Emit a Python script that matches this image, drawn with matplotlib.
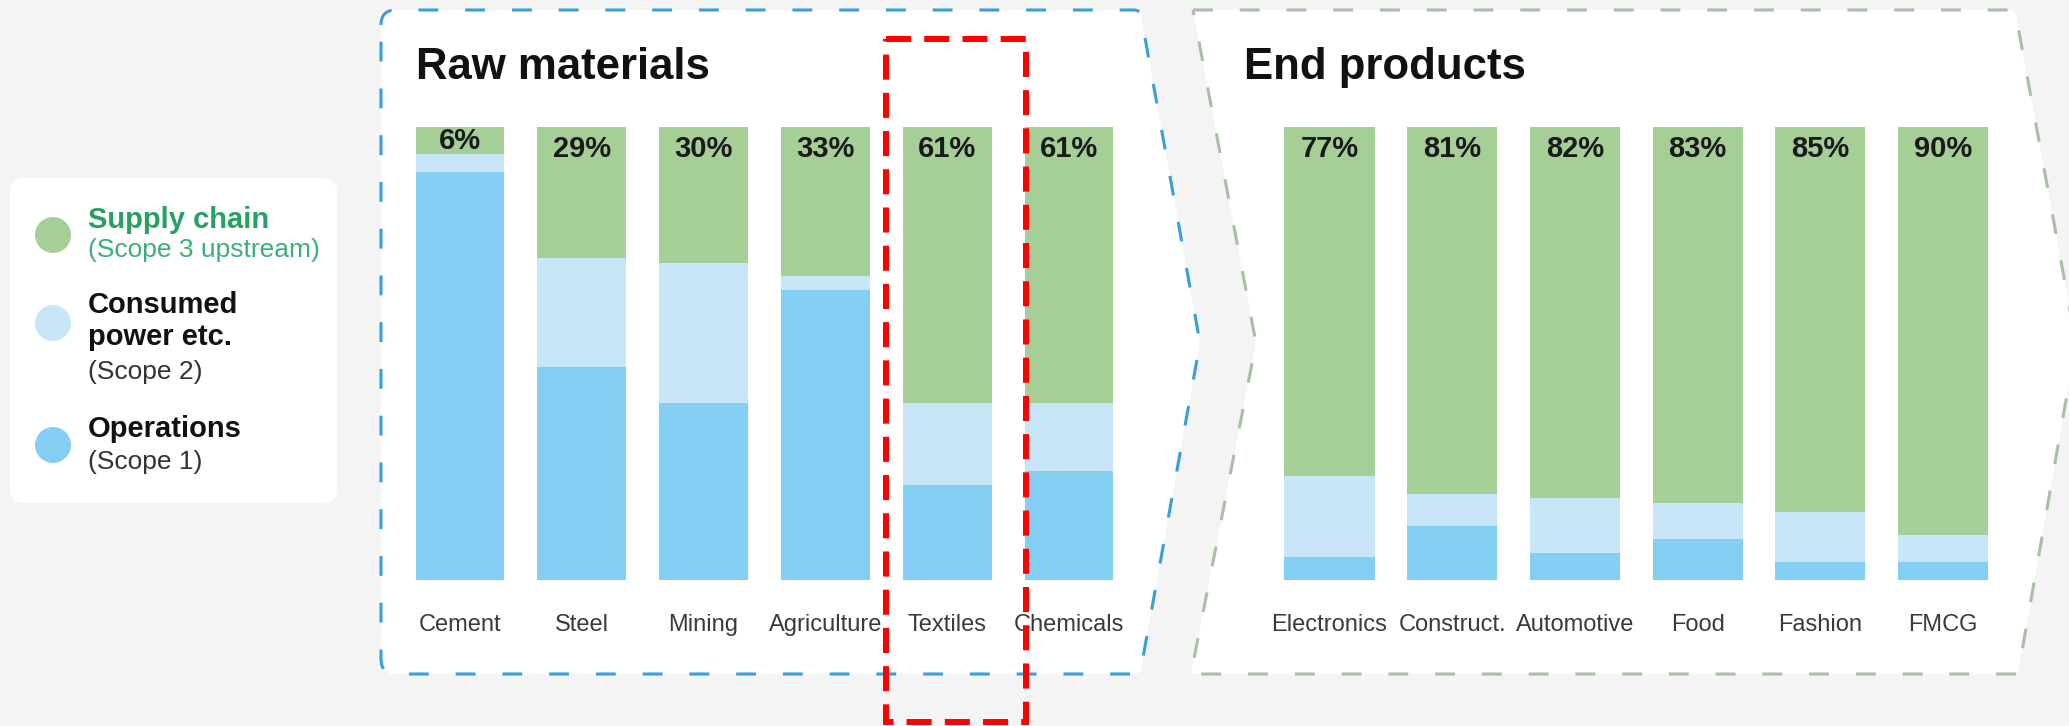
import numpy as np
import matplotlib
matplotlib.use('Agg')
from matplotlib import pyplot as plt
from matplotlib.path import Path
from matplotlib.patches import PathPatch, FancyBboxPatch, Circle, Rectangle

plt.rcParams['font.family'] = ['Liberation Sans', 'DejaVu Sans']

# shares of emissions (%), stacked bottom -> top: operations, power, supply chain
raw_names = ['Cement', 'Steel', 'Mining', 'Agriculture', 'Textiles', 'Chemicals']
raw_ops = [90, 47, 39, 64, 21, 24]
raw_power = [4, 24, 31, 3, 18, 15]
raw_supply = [6, 29, 30, 33, 61, 61]

end_names = ['Electronics', 'Construct.', 'Automotive', 'Food', 'Fashion', 'FMCG']
end_ops = [5, 12, 6, 9, 4, 4]
end_power = [18, 7, 12, 8, 11, 6]
end_supply = [77, 81, 82, 83, 85, 90]

GREEN = '#a6ce97'
LIGHT = '#c8e6f8'
BLUE = '#84cef3'
BG = '#f4f4f4'

W, H = 2069, 726


#polygon path with rounded corners (quadratic curves at each vertex)
def rounded_path(pts, radii):
    pts = np.array(pts, float)
    n = len(pts)
    verts, codes = [], []
    for i in range(n):
        p, prev, nxt = pts[i], pts[i - 1], pts[(i + 1) % n]
        r = radii[i]
        if r == 0:
            verts.append(p)
            codes.append(Path.LINETO)
        else:
            d1 = (prev - p) / np.linalg.norm(prev - p)
            d2 = (nxt - p) / np.linalg.norm(nxt - p)
            verts += [p + d1 * r, p, p + d2 * r]
            codes += [Path.LINETO, Path.CURVE3, Path.CURVE3]
    codes[0] = Path.MOVETO
    verts.append(verts[0])
    codes.append(Path.CLOSEPOLY)
    return Path(verts, codes)


def draw_bars(ax, names, ops, power, supply, width):
    x = np.arange(len(names))
    ops, power, supply = map(np.array, (ops, power, supply))
    ax.bar(x, ops, width, color=BLUE)
    ax.bar(x, power, width, bottom=ops, color=LIGHT)
    ax.bar(x, supply, width, bottom=ops + power, color=GREEN)
    for xi, s, b in zip(x, supply, ops + power):
        ax.text(xi, b + s - min(s / 2, 4.9), '{}%'.format(s), ha='center', va='center',
                fontsize=21, fontweight='bold', color='#1a1a1a')
    ax.set_xlim(-0.5, len(names) - 0.5)
    ax.set_ylim(0, 100)
    ax.set_xticks(x, names)
    ax.tick_params(axis='x', length=0, pad=32.4, labelsize=17, labelcolor='#3a3a3a')
    for t in ax.get_xticklabels():
        t.set_va('center')
    ax.set_yticks([])
    for s in ax.spines.values():
        s.set_visible(False)
    ax.patch.set_alpha(0)


fig = plt.figure(figsize=(W / 100, H / 100), dpi=100, facecolor=BG)

# background layer in pixel coordinates
bg = fig.add_axes([0, 0, 1, 1], zorder=0)
bg.set_xlim(0, W)
bg.set_ylim(H, 0)
bg.axis('off')

raw_panel = rounded_path([(381, 10), (1140, 10), (1200, 343), (1140, 674), (381, 674)],
                         [15, 6, 4, 6, 15])
bg.add_patch(PathPatch(raw_panel, facecolor='white', edgecolor='#3a9fd6', lw=2.2,
                       linestyle=(0, (6.5, 8.8))))
end_panel = rounded_path([(1193, 10), (2015, 10), (2076, 343), (2018, 674), (1191, 674), (1256, 343)],
                         [0, 4, 4, 4, 0, 4])
bg.add_patch(PathPatch(end_panel, facecolor='white', edgecolor='#a9bfa4', lw=2.2,
                       linestyle=(0, (6.5, 8.8))))

bg.text(416, 79, 'Raw materials', fontsize=31.5, fontweight='bold', color='#111111', va='baseline')
bg.text(1244, 79, 'End products', fontsize=31.5, fontweight='bold', color='#111111', va='baseline')

# legend card
bg.add_patch(FancyBboxPatch((10, 178), 327, 325, boxstyle='round,pad=0,rounding_size=15',
                            facecolor='white', edgecolor='none'))
for cy, col in [(235, GREEN), (323, LIGHT), (445, BLUE)]:
    bg.add_patch(Circle((53, cy), 18, facecolor=col, edgecolor='none'))
legend_lines = [
    ('Supply chain', 228, 'bold', '#27a063'),
    ('(Scope 3 upstream)', 257, 'normal', '#3dae7a'),
    ('Consumed', 313, 'bold', '#111111'),
    ('power etc.', 345, 'bold', '#111111'),
    ('(Scope 2)', 379, 'normal', '#333333'),
    ('Operations', 437, 'bold', '#111111'),
    ('(Scope 1)', 469, 'normal', '#333333'),
]
for txt, y, wt, col in legend_lines:
    bg.text(88, y, txt, fontsize=21 if wt == 'bold' else 19, fontweight=wt, color=col, va='baseline')

# bar axes
ax1 = fig.add_axes([399.1 / W, 1 - 580 / H, (1129.9 - 399.1) / W, (580 - 127) / H], zorder=2)
draw_bars(ax1, raw_names, raw_ops, raw_power, raw_supply, 0.73)
ax2 = fig.add_axes([1268.2 / W, 1 - 580 / H, (2004.4 - 1268.2) / W, (580 - 127) / H], zorder=2)
draw_bars(ax2, end_names, end_ops, end_power, end_supply, 0.735)

# red highlight box on top
top = fig.add_axes([0, 0, 1, 1], zorder=10)
top.set_xlim(0, W)
top.set_ylim(H, 0)
top.axis('off')
top.patch.set_alpha(0)
top.add_patch(Rectangle((886, 39), 140, 683, fill=False, edgecolor='#ff0000', lw=4.3,
                        linestyle=(0, (4.2, 2.2))))

fig.savefig('out.png', dpi=100, facecolor=fig.get_facecolor())
